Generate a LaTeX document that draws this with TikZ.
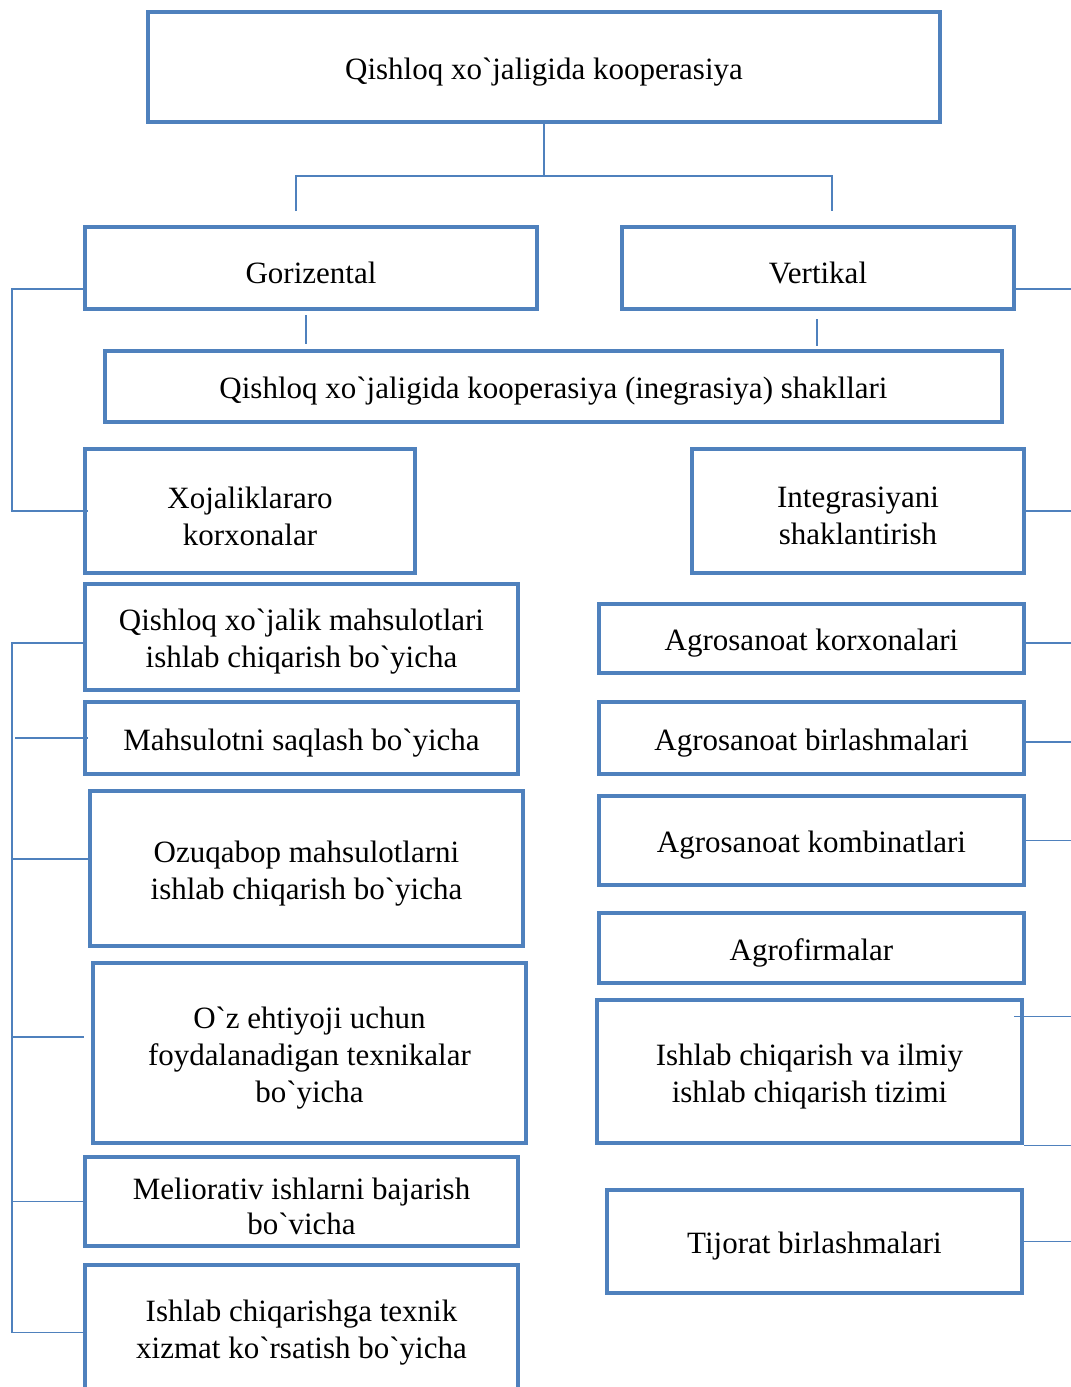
\documentclass[tikz,border=0pt]{standalone}
\usepackage{fontspec}
\setmainfont{Liberation Serif}[Ligatures=TeXOff]
\definecolor{boxblue}{RGB}{79,129,189}

\begin{document}
\begin{tikzpicture}[
    x=0.5pt, y=-0.5pt,
    txt/.style={align=center, font=\fontsize{15.5}{18.5}\selectfont, yshift=-2.5pt},
    box/.style={draw=boxblue, line width=2.3pt, label={[txt]center:#1}},
    sz/.style 2 args={minimum width=#1*0.5pt, minimum height=#2*0.5pt},
    link/.style={draw=boxblue, line width=0.7pt}
  ]
  \useasboundingbox (0,0) rectangle (1071,1387);

  % Top of the tree
  \node[box={Qishloq xo`jaligida kooperasiya}, sz={792}{110}] (top) at (544,67) {};
  \node[box={Gorizental}, sz={452}{82}] (goriz) at (311,268) {};
  \node[box={Vertikal}, sz={392}{82}] (vert) at (818,268) {};
  \node[box={Qishloq xo`jaligida kooperasiya (inegrasiya) shakllari}, sz={897}{71}] (shakl) at (553.5,386.5) {};

  % Two main forms
  \node[box={Xojaliklararo\\korxonalar}, sz={330}{124}] (xoj) at (250,511) {};
  \node[box={Integrasiyani\\shaklantirish}, sz={332}{124}] (integ) at (858,511) {};

  % Left column
  \node[box={Qishloq xo`jalik mahsulotlari\\ishlab chiqarish bo`yicha}, sz={433}{106}] (l1) at (301.5,637) {};
  \node[box={Mahsulotni saqlash bo`yicha}, sz={433}{72}] (l2) at (301.5,738) {};
  \node[box={Ozuqabop mahsulotlarni\\ishlab chiqarish bo`yicha}, sz={433}{155}] (l3) at (306.5,868.5) {};
  \node[box={O`z ehtiyoji uchun\\foydalanadigan texnikalar\\bo`yicha}, sz={433}{180}] (l4) at (309.5,1053) {};
  \node[box={Meliorativ ishlarni bajarish\\[-1pt]bo`vicha}, sz={433}{89}] (l5) at (301.5,1201.5) {};
  \node[draw=boxblue, line width=2.3pt, sz={433}{135}] (l6) at (301.5,1332.5) {};
  \node[txt] (l6t) at (301.5,1328) {Ishlab chiqarishga texnik\\xizmat ko`rsatish bo`yicha};

  % Right column
  \node[box={Agrosanoat korxonalari}, sz={425}{69}] (r1) at (811.5,638.5) {};
  \node[box={Agrosanoat birlashmalari}, sz={425}{72}] (r2) at (811.5,738) {};
  \node[box={Agrosanoat kombinatlari}, sz={425}{89}] (r3) at (811.5,840.5) {};
  \node[box={Agrofirmalar}, sz={425}{70}] (r4) at (811.5,948) {};
  \node[box={Ishlab chiqarish va ilmiy\\ishlab chiqarish tizimi}, sz={425}{143}] (r5) at (809.5,1071.5) {};
  \node[box={Tijorat birlashmalari}, sz={415}{103}] (r6) at (814.5,1241.5) {};

  % Helper points
  \coordinate (hub) at (544,176);
  \coordinate (gl) at (296,211);
  \coordinate (vl) at (832,211);
  \coordinate (lx) at (12,0);
  \coordinate (rx) at (1071,0);

  % Tree links
  \draw[link] (top.south) -- (hub);
  \draw[link] (gl) |- (hub) -| (vl);
  \draw[link] ([shift={(-2.5pt,-2pt)}]goriz.south) -- ([shift={(-2.5pt,2.5pt)}]goriz.south |- shakl.north);
  \draw[link] ([shift={(-0.5pt,-4pt)}]vert.south) -- ([shift={(-0.5pt,1.5pt)}]vert.south |- shakl.north);

  % Left brackets
  \draw[link] ([yshift=-10.5pt]goriz.west) -| (lx |- xoj.west) -- ([xshift=2.5pt]xoj.west);
  \draw[link] ([yshift=-3pt]l1.west) -| (lx |- l6.west) -- (l6.west);
  \draw[link] ([xshift=2.5pt]l2.west) coordinate (a) -- ([xshift=1.5pt]a -| lx);
  \draw[link] ([yshift=4.75pt]l3.west) coordinate (b) -- (b -| lx);
  \draw[link] ([shift={(-3.5pt,8pt)}]l4.west) coordinate (c) -- (c -| lx);
  \draw[link] (l5.west) -- (l5.west -| lx);

  % Right stubs
  \draw[link] ([yshift=-10.5pt]vert.east) coordinate (d) -- (d -| rx);
  \draw[link] (integ.east) -- (integ.east -| rx);
  \draw[link] ([yshift=-2.25pt]r1.east) coordinate (e) -- (e -| rx);
  \draw[link] ([yshift=-2pt]r2.east) coordinate (f) -- (f -| rx);
  \draw[link] (r3.east) -- (r3.east -| rx);
  \draw[link] ([shift={(-5pt,-9.5pt)}]r5.north east) coordinate (g) -- (g -| rx);
  \draw[link] (r5.south east) -- (r5.south east -| rx);
  \draw[link] (r6.east) -- (r6.east -| rx);
\end{tikzpicture}
\end{document}
